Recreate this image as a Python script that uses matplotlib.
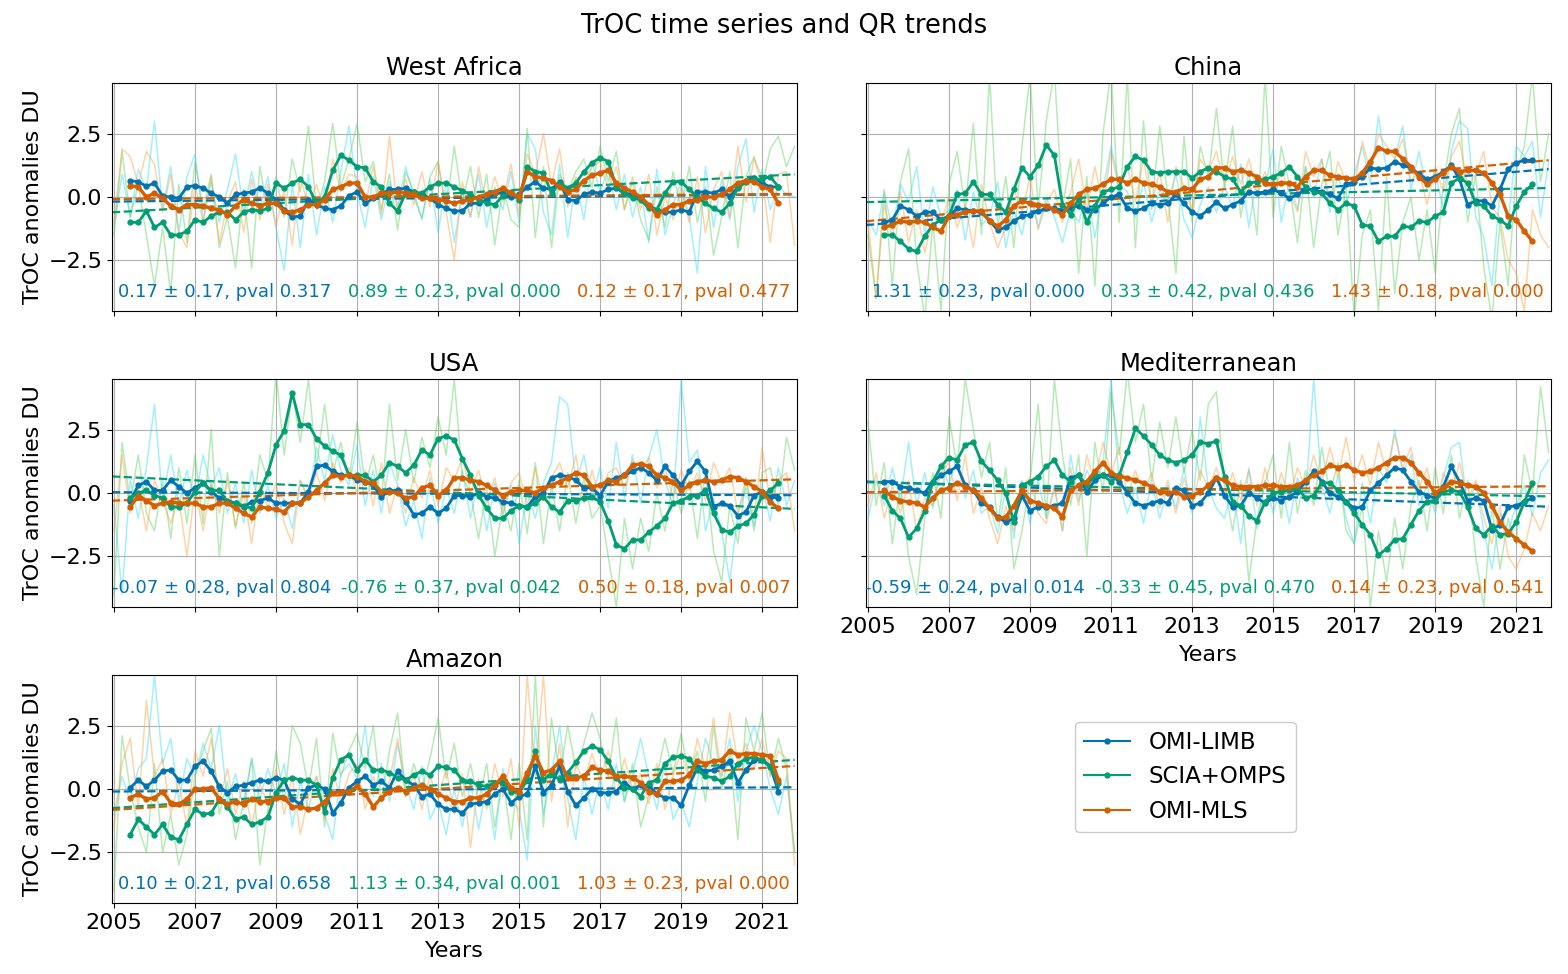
import numpy as np
import matplotlib
matplotlib.use("Agg")
import matplotlib.pyplot as plt
from matplotlib.lines import Line2D

# ---------------- data ----------------
regions = ["West Africa", "China", "USA", "Mediterranean", "Amazon"]
series_names = ["OMI-LIMB", "SCIA+OMPS", "OMI-MLS"]

# smoothed series: 2005.4 .. 2021.4 every 0.2 yr (81 values)
t_smooth = 2005.4 + 0.2 * np.arange(81)
# raw series: 2005.0 .. 2021.8 every 0.2 yr (85 values)
t_raw = 2005.0 + 0.2 * np.arange(85)

wa_limb = [0.65, 0.6, 0.42,
           0.55, 0.03, 0.0, -0.05, 0.4,   0.45, 0.35, 0.15, 0.0, -0.25,   0.1, 0.15, 0.2, 0.35, 0.15,
           -0.1, -0.5, -0.8, -0.75, -0.1,   -0.3, -0.45, -0.5, -0.35, 0.05,   0.2, -0.25, -0.05, 0.1, 0.3,
           0.3, 0.35, 0.2, 0.1, -0.05,   -0.3, -0.45, -0.55, -0.55, -0.25,   -0.25, -0.1, 0.15, 0.15, 0.0,
           0.1, 0.4, 0.6, 0.35, 0.3,   0.6, -0.1, -0.15, 0.1, 0.2,   0.15, 0.3, 0.35, 0.15, 0.1,
           -0.05, -0.35, -0.5, -0.6, -0.6,   -0.5, -0.6, 0.2, 0.2, 0.15,   0.3, 0.0, 0.4, 0.65, 0.75,
           0.55, 0.4, 0.4]
wa_scia = [-1.0, -1.0, -0.55,
           -1.2, -1.0, -1.5, -1.5, -1.35,   -0.9, -1.0, -0.75, -0.6, -0.6,   -0.9, -0.6, -0.5, -0.55, -0.45,
           0.55, 0.35, 0.55, 0.7, 0.4,   -0.25, 0.0, 1.05, 1.65, 1.45,   1.2, 1.15, 0.6, 0.4, -0.25,
           -0.55, 0.15, 0.2, 0.15, 0.4,   0.55, 0.55, 0.4, 0.25, 0.1,   -0.1, -0.25, -0.3, 0.05, 0.2,
           -0.1, 1.2, 1.0, 0.95, 0.15,   0.55, 0.35, 0.55, 1.0, 1.35,   1.55, 1.4, 0.4, 0.15, -0.05,
           -0.1, -0.45, -0.5, 0.15, 0.6,   0.6, 0.3, 0.0, -0.25, -0.45,   -0.6, -0.25, 0.35, 0.6, 0.7,
           0.7, 0.8, 0.4]
wa_mls = [0.45, 0.4, 0.0,
          0.15, -0.05, -0.35, -0.5, -0.3,   -0.3, -0.35, -0.45, -0.5, -0.7,   -0.35, -0.1, -0.25, -0.35, -0.25,
          -0.25, -0.55, -0.6, -0.5, -0.3,   -0.3, -0.1, 0.3, 0.4, 0.55,   0.55, 0.0, 0.0, 0.15, 0.15,
          0.2, 0.15, 0.1, -0.05, -0.05,   -0.1, -0.15, -0.25, -0.15, -0.1,   0.0, 0.1, 0.2, 0.35, 0.15,
          0.0, 1.0, 0.8, 0.75, 0.65,   0.4, 0.2, 0.3, 0.65, 0.85,   0.95, 1.05, 0.55, 0.35, 0.2,
          0.0, -0.3, -0.7, -0.5, -0.3,   -0.3, -0.15, -0.1, 0.0, 0.0,   0.1, 0.3, 0.55, 0.65, 0.6,
          0.4, 0.3, -0.25]

cn_limb = [-1.0, -0.9, -0.35,
           -0.5, -0.75, -0.6, -0.6, -0.9,   -0.75, -0.45, -0.5, -0.55, -0.6,   -0.95, -1.3, -1.2, -0.95, -0.75,
           -0.7, -0.55, -0.45, -0.45, -0.55,   -0.45, -0.35, -0.5, -0.5, -0.25,   0.0, 0.1, -0.45, -0.55, -0.45,
           -0.25, -0.3, -0.25, 0.1, -0.25,   -0.6, -0.75, -0.5, -0.2, -0.45,   -0.3, -0.15, 0.2, 0.15, 0.2,
           0.3, 0.15, -0.05, 0.1, 0.3,   0.3, 0.2, 0.1, -0.05, 0.5,   0.6, 0.8, 1.15, 1.1, 1.15,
           1.4, 1.25, 1.15, 0.9, 0.7,   0.8, 1.0, 1.25, 0.7, -0.3,   -0.15, -0.15, -0.35, 0.3, 1.1,
           1.35, 1.45, 1.45]
cn_scia = [-1.5, -1.5, -1.75,
           -2.05, -2.15, -1.55, -1.1, -0.9,   -0.75, 0.1, 0.15, 0.6, 0.1,   0.1, -0.3, -0.6, 0.3, 1.15,
           0.8, 1.25, 2.05, 1.65, -0.3,   -0.7, -0.05, -1.0, -0.35, 0.2,   0.3, 0.4, 1.2, 1.6, 1.45,
           1.0, 0.95, 1.0, 1.0, 1.0,   0.75, 1.0, 1.15, 1.0, 0.8,   0.7, 0.2, 0.55, 0.6, 0.7,
           0.8, 0.95, 1.2, 0.8, 0.4,   0.2, 0.15, -0.25, -0.5, -0.25,   -0.35, -1.1, -1.15, -1.75, -1.55,
           -1.55, -1.15, -1.2, -0.95, -1.0,   -0.75, -0.6, 0.55, 0.75, 0.55,   -0.25, -0.35, -0.75, -0.9, -1.15,
           -0.35, 0.2, 0.5]
cn_mls = [-1.2, -1.1, -0.95,
          -1.0, -0.95, -1.0, -1.2, -1.35,   -0.75, -0.7, -0.6, -0.55, -0.55,   -0.95, -1.15, -0.9, -0.35, -0.15,
          -0.25, -0.3, -0.35, -0.5, -0.7,   -0.25, 0.1, 0.3, 0.35, 0.5,   0.7, 0.7, 0.55, 0.7, 0.55,
          0.5, 0.4, 0.2, 0.2, 0.35,   0.3, 0.7, 0.8, 1.15, 1.15,   1.0, 1.05, 0.95, 0.8, 0.55,
          0.5, 0.55, 0.55, 0.4, 0.8,   1.05, 1.05, 0.85, 0.8, 0.75,   0.7, 0.95, 1.4, 1.95, 1.8,
          1.8, 1.5, 1.2, 0.8, 0.5,   0.7, 0.95, 1.2, 1.0, 1.05,   1.05, 0.95, 0.55, 0.1, -0.75,
          -0.9, -1.35, -1.75]

us_limb = [-0.3, 0.3, 0.45,
           0.1, 0.1, 0.5, 0.25, 0.0,   0.2, 0.4, 0.05, -0.2, -0.3,   -0.4, -0.55, -0.35, -0.3, -0.2,
           -0.4, -0.4, -0.4, -0.4, 0.05,   1.05, 1.1, 0.85, 0.7, 0.7,   0.5, 0.45, 0.3, -0.15, 0.1,
           0.1, -0.35, -0.85, -0.8, -0.55,   -0.8, -0.6, -0.1, -0.1, -0.15,   0.0, -0.15, -0.2, -0.35, -0.4,
           -0.5, -0.55, -0.15, 0.0, 0.6,   0.7, 0.65, 0.5, 0.2, 0.2,   -0.1, 0.45, 0.6, 0.7, 0.85,
           1.0, 0.8, 0.5, 1.05, 0.7,   0.3, 0.85, 1.25, 0.85, -0.55,   -0.4, -0.5, -0.9, -0.75, -0.1,
           0.05, -0.15, -0.2]
us_scia = [-0.2, 0.0, 0.1,
           -0.1, -0.2, -0.55, -0.55, -0.4,   0.05, 0.4, 0.1, 0.1, -0.35,   -0.4, -0.5, -0.6, 0.05, 0.8,
           1.9, 2.45, 3.95, 2.7, 2.7,   2.15, 1.85, 1.65, 1.5, 0.7,   0.7, 0.7, 0.45, 0.7, 1.2,
           1.05, 0.8, 1.1, 1.7, 1.5,   2.15, 2.25, 2.1, 1.35, 0.7,   -0.1, -0.6, -1.0, -1.0, -0.7,
           -0.5, -0.55, -0.4, -0.15, -0.55,   -0.75, -0.3, -0.3, -0.2, -0.15,   -0.35, -1.1, -2.05, -2.2, -1.85,
           -1.85, -1.55, -1.3, -1.0, -0.4,   -0.3, -0.15, -0.1, 0.1, -0.8,   -1.45, -1.55, -1.3, -1.2, -0.85,
           -0.1, 0.1, 0.4]
us_mls = [-0.55, -0.1, -0.3,
          -0.5, -0.4, -0.35, -0.4, -0.4,   -0.4, -0.55, -0.55, -0.4, -0.4,   -0.6, -0.8, -0.95, -0.55, -0.6,
          -0.65, -0.75, -0.4, -0.4, -0.15,   0.1, 0.4, 0.7, 0.65, 0.7,   0.65, 0.45, 0.4, 0.05, 0.05,
          0.0, -0.2, -0.15, 0.2, 0.3,   -0.1, 0.1, 0.6, 0.6, 0.5,   0.45, 0.3, 0.1, -0.1, 0.05,
          0.1, 0.1, 0.0, 0.2, 0.3,   0.45, 0.6, 0.8, 0.7, 0.25,   0.3, 0.5, 0.45, 0.7, 1.1,
          1.15, 1.05, 0.7, 0.6, 0.45,   0.1, 0.3, 0.45, 0.5, 0.45,   0.5, 0.65, 0.6, 0.45, 0.25,
          0.05, -0.35, -0.6]

md_limb = [0.45, 0.45, 0.25,
           0.2, 0.1, 0.0, 0.45, 0.7,   0.85, 1.05, 0.3, 0.1, -0.4,   -0.55, -0.95, -1.15, -1.0, -0.1,
           -0.7, -0.55, -0.55, -0.5, -0.4,   0.6, 0.7, 0.05, 0.5, 0.7,   0.7, 0.45, 0.0, -0.4, -0.5,
           -0.4, -0.3, -0.4, 0.2, 0.1,   -0.5, -0.4, 0.0, 0.6, -0.1,   -0.55, -0.5, 0.0, -0.2, -0.4,
           -0.2, -0.3, -0.15, 0.05, 0.45,   0.85, 0.45, 0.0, -0.15, -0.35,   -0.6, -0.55, 0.1, 0.4, 0.7,
           1.0, 0.9, 0.45, 0.05, -0.1,   -0.2, 0.25, 1.05, 0.45, -0.3,   -0.2, -0.3, -1.45, -1.25, -0.55,
           -0.5, -0.35, -0.2]
md_scia = [-0.1, -0.7, -1.0,
           -1.75, -1.4, -0.7, 0.45, 1.05,   1.4, 1.3, 1.9, 2.0, 1.25,   0.9, 0.5, 0.0, -1.15, 0.3,
           0.45, 0.65, 1.05, 1.3, 0.7,   0.45, 0.7, 0.3, 0.7, 0.7,   0.45, 0.7, 1.6, 2.55, 2.25,
           1.9, 1.5, 1.3, 1.2, 1.3,   1.5, 2.0, 1.95, 2.05, 0.65,   -0.35, -0.5, -0.9, -1.1, -0.35,
           0.0, 0.05, 0.1, 0.2, -0.2,   -0.1, 0.4, 0.4, 0.1, -0.35,   -0.8, -1.25, -1.65, -2.45, -2.2,
           -1.85, -1.8, -1.25, -0.7, -0.35,   -0.3, 0.05, 0.1, 0.05, -0.55,   -1.4, -1.65, -1.3, -1.65, -1.6,
           -1.15, -0.35, 0.4]
md_mls = [0.1, -0.15, -0.3,
          -0.35, -0.4, -0.55, -0.2, 0.1,   0.2, 0.4, 0.25, 0.1, -0.2,   -0.6, -1.0, -0.95, -0.5, 0.1,
          -0.3, -0.4, -0.5, -0.6, -0.95,   0.1, 0.3, 0.45, 0.85, 1.2,   0.8, 0.65, 0.6, 0.5, 0.4,
          0.25, 0.05, 0.0, 0.05, -0.15,   -0.1, 0.05, 0.3, 0.6, 0.5,   0.3, 0.25, 0.25, 0.25, 0.3,
          0.3, 0.25, 0.25, 0.3, 0.5,   0.7, 0.85, 1.1, 1.0, 1.1,   0.9, 0.8, 0.85, 1.0, 1.2,
          1.4, 1.4, 1.2, 0.8, 0.45,   0.0, 0.2, 0.45, 0.4, 0.3,   0.25, 0.0, -0.5, -1.15, -1.55,
          -1.8, -2.05, -2.3]

am_limb = [0.05, 0.35, 0.1,
           0.35, 0.7, 0.75, 0.35, 0.35,   0.9, 1.1, 0.7, 0.1, -0.15,   0.1, 0.15, 0.25, 0.35, 0.3,
           0.45, 0.35, -0.4, -0.6, 0.05,   0.15, 0.0, -0.95, -0.55, 0.05,   0.3, 0.5, 0.15, 0.3, 0.05,
           0.7, 0.35, 0.15, -0.3, -0.2,   -0.6, -0.8, -0.8, -0.95, -0.6,   -0.55, -0.5, -0.2, 0.0, -0.55,
           -0.3, -0.2, 0.9, -0.15, 0.15,   0.9, -0.1, -0.65, -0.35, 0.0,   -0.15, -0.15, -0.1, 0.25, 0.0,
           0.15, 0.15, -0.2, -0.35, -0.35,   -0.65, 0.15, 0.85, 0.7, 0.75,   0.9, 1.1, 0.25, 0.75, 1.15,
           1.15, 0.9, -0.1]
am_scia = [-1.8, -1.2, -1.5,
           -1.8, -1.4, -1.9, -2.0, -1.4,   -0.8, -1.0, -0.95, -0.4, -0.7,   -1.2, -1.1, -1.4, -1.3, -1.1,
           -0.15, 0.35, 0.45, 0.35, 0.35,   0.15, -0.9, 0.45, 1.15, 1.35,   0.75, 1.15, 0.75, 0.75, 0.65,
           0.45, 0.35, 0.55, 0.7, 0.55,   0.9, 0.85, 0.75, 0.35, 0.3,   0.15, 0.1, 0.25, 0.25, -0.1,
           -0.15, 0.35, 1.5, 0.35, 0.65,   0.35, 0.65, 1.05, 1.5, 1.7,   1.55, 1.1, 0.45, 0.05, 0.0,
           -0.3, 0.25, 0.35, 1.0, 1.25,   1.3, 1.2, 0.75, 0.5, 0.45,   0.3, 0.5, 1.0, 1.2, 1.25,
           1.15, 0.85, 0.25]
am_mls = [-0.35, -0.2, -0.4,
          -0.35, -0.1, -0.55, -0.6, -0.4,   0.0, 0.0, 0.05, -0.4, -0.6,   -0.5, -0.6, -0.4, -0.5, -0.5,
          -0.35, -0.35, -0.7, -0.7, -0.8,   -0.75, -0.5, -0.15, -0.1, -0.1,   0.1, -0.2, -0.7, -0.35, -0.1,
          0.05, -0.1, 0.05, 0.15, 0.0,   -0.2, -0.35, -0.5, -0.5, -0.35,   -0.35, -0.2, 0.15, 0.5, 0.05,
          -0.1, 0.65, 1.3, 0.65, 0.75,   1.1, 0.45, 0.45, 0.5, 0.85,   0.75, 0.7, 0.5, 0.5, 0.45,
          0.25, -0.1, -0.2, 0.3, 0.3,   0.35, 0.55, 1.1, 1.0, 1.1,   1.15, 1.5, 1.35, 1.4, 1.4,
          1.35, 1.3, 0.35]

# raw anomalies (thin pale lines)
wa_limb_raw = [-1.2, 0.9, -0.8, 1.1, 0.3,  3.0, -0.5, 1.2, -1.4, 0.8,  1.7, -0.9, 0.6, -1.0, 0.3,
               1.7, -0.6, 1.0, -0.5, 0.8,  -1.2, -2.9, 0.5, -2.0, 0.9,  -1.5, 0.4, -1.0, 1.0, 2.8,
               0.2, -1.2, 0.8, -0.9, 0.6,  -0.4, 1.2, 0.0, -0.8, 0.7,  -1.4, 0.6, -1.8, 0.2, -0.8,
               0.9, -1.2, 0.4, -0.5, 1.0,  -1.0, 2.5, 1.9, -0.6, -1.5,  1.3, -1.6, 0.7, -0.9, 1.4,
               0.2, 1.1, -0.5, 0.9, -0.8,  0.4, -1.8, 1.1, -1.5, -0.3,  0.6, -0.8, -3.0, 1.2, -1.2,
               0.7, -0.9, 1.2, 2.3, -0.6,  1.1, -0.5, 0.4, 0.1, 0.0]
wa_scia_raw = [-1.5, 1.8, -0.8, 0.5, -1.5,  -3.5, -1.2, -3.8, 0.5, -1.8,  1.4, -0.5, 0.9, -2.0, -0.8,
               -2.8, 0.3, -2.8, 1.2, -0.6,  0.8, -0.8, 1.5, 0.2, 2.8,  -0.5, 0.6, 2.9, 0.4, 1.5,
               2.9, 0.6, 1.4, -0.5, 0.9,  -1.3, 1.0, 0.2, -0.9, 0.8,  1.4, -0.5, 2.0, -0.2, 1.2,
               -0.8, 0.9, -1.9, 0.4, -0.9,  -1.2, 2.7, -1.6, 1.2, -2.0,  0.9, 0.2, 1.0, 1.5, 0.4,
               2.0, 0.6, 1.8, -0.5, 0.6,  -0.9, -1.7, 0.4, -1.2, 1.0,  -0.5, 1.2, -1.0, 0.4, -2.3,
               -0.8, 1.0, -2.0, 0.8, 1.6,  0.4, 1.9, 2.4, 1.2, 2.0]
wa_mls_raw = [-1.0, 1.9, 1.6, 0.5, 1.8,  1.3, -0.6, 0.9, -1.4, -2.0,  0.5, -1.0, 0.8, -1.8, -0.2,
              0.6, -1.4, 0.7, -0.9, 0.5,  -1.2, 0.3, -1.9, 0.8, -0.4,  0.5, -0.6, 1.5, 0.2, 0.9,
              0.8, -0.4, 1.2, -0.7, 2.4,  -0.5, 0.7, -0.3, 1.0, -0.4,  1.4, -0.6, -2.5, 0.6, -0.8,
              1.2, -0.4, 0.8, -0.2, 1.3,  -0.7, 1.7, 0.9, 2.5, 0.5,  1.9, -0.4, 0.8, 0.5, 1.2,
              1.4, 0.3, 1.2, -0.5, 0.8,  -0.5, 0.9, -1.5, 0.0, -0.9,  0.4, -1.0, 0.8, -1.4, 0.3,
              1.0, -0.8, 2.0, -0.2, 1.5,  0.8, -1.8, 0.9, 1.0, -1.9]

cn_limb_raw = [-0.9, -1.5, 0.2, -1.3, 0.5,  -0.2, 1.2, -1.5, 0.4, -0.8,  -0.5, 0.3, -1.7, 0.2, -1.1,
               -0.8, 0.6, -2.0, -0.5, -1.5,  0.1, -1.2, 0.0, -0.8, -1.8,  -0.5, -1.0, 0.2, -1.6, 0.3,
               2.0, 0.5, 0.2, -0.8, 0.6,  -1.0, 0.3, -0.2, 0.9, -0.9,  -1.6, -0.3, 0.4, -0.6, 0.5,
               -0.5, 1.3, -1.2, 0.8, 0.4,  1.9, -1.0, 0.6, -0.5, 1.2,  0.0, 1.5, -0.6, 0.9, -0.3,
               0.9, 2.0, 0.5, 3.2, 1.0,  1.5, 2.8, 0.3, 1.8, 0.2,  1.0, -0.5, 1.8, 3.0, 2.7,
               -0.8, -1.6, -3.5, 0.2, -1.0,  2.0, 1.6, 2.2, -0.8, 1.4]
cn_scia_raw = [-1.5, -4.0, 0.3, -3.5, 0.6,  1.9, -2.5, -4.8, -1.0, -4.5,  0.5, 1.8, -0.5, 2.9, -1.5,
               4.8, -1.2, 0.8, -2.0, 2.0,  4.8, -0.5, 3.0, 5.0, -0.4,  1.5, -3.0, 0.8, -3.5, 2.5,
               5.0, -1.0, 4.8, -2.0, 3.0,  -0.5, 2.8, 0.0, -3.0, 2.4,  -1.0, 2.0, 0.8, 3.5, 0.4,
               2.8, -0.8, 1.0, -1.5, 4.8,  -0.8, 2.0, 0.5, -1.8, 1.2,  -2.0, 0.5, 1.8, -1.5, 0.4,
               -4.8, -1.5, -0.5, -4.5, 0.8,  -3.8, -1.0, 0.0, -2.5, -0.5,  -3.0, 0.5, 2.5, 3.5, -1.0,
               0.9, -2.8, -4.8, -1.0, -3.5,  1.0, 2.0, 4.8, 0.6, 2.5]
cn_mls_raw = [-1.0, -4.0, -0.3, -1.6, 0.2,  -1.8, -0.5, -2.2, -0.8, -1.0,  0.0, -1.2, -0.3, -2.0, 0.5,
              -1.0, -2.0, -1.2, 0.3, -0.6,  0.8, -1.3, -0.2, 0.3, -1.0,  0.2, 1.5, -0.5, 1.2, -0.3,
              1.8, 0.3, 1.2, -0.2, 1.5,  -0.3, 1.0, -1.0, 1.2, 0.4,  -0.5, 1.5, 1.0, 1.8, 0.5,
              1.6, 0.5, 1.5, 0.2, 1.0,  0.0, 1.1, 0.2, -0.6, 1.8,  0.8, 1.5, -0.2, 1.4, 0.6,
              0.4, 2.2, 1.0, 2.5, 2.0,  1.5, 2.3, 0.6, 1.0, -0.3,  1.2, 0.2, 1.6, 2.2, 0.4,
              0.9, 1.8, -0.4, -0.8, -2.5,  -3.0, -4.5, -0.5, -1.5, -2.0]

us_limb_raw = [-0.5, -4.0, 0.5, -1.0, 1.0,  3.5, -0.3, 1.5, -0.5, 0.9,  -0.3, 1.5, 0.2, 1.0, -0.8,
               0.4, -1.2, 0.9, -0.8, 0.3,  -1.0, -0.2, -1.4, 0.5, -0.3,  1.8, 0.5, 2.3, 0.9, 0.3,
               1.9, -0.5, 0.9, -0.8, 1.2,  0.3, -1.3, -0.3, -1.8, 0.6,  -1.2, 0.2, -0.8, 0.9, -1.0,
               0.5, -1.5, 0.4, -0.9, 0.3,  -2.0, 0.1, -1.0, 0.4, 1.2,  3.8, 3.5, 0.4, 1.5, -0.2,
               1.0, -0.6, 2.0, -0.2, 1.5,  -0.4, 1.4, 2.5, 0.5, -0.5,  4.5, 1.2, 1.7, -1.5, -0.2,
               -1.5, -3.5, -0.8, 0.2, -1.3,  0.3, -1.1, 1.0, -0.5, 0.5]
us_scia_raw = [-4.0, 2.0, -0.4, 1.5, -0.8,  -1.5, 0.5, -1.8, 1.0, -1.2,  1.5, -1.2, 2.5, -2.5, 0.8,
               -1.4, 0.4, -1.2, 1.5, 0.5,  4.8, 1.5, 4.0, 2.0, 4.5,  1.0, 3.5, 0.8, 2.0, 0.5,
               2.8, 0.3, 1.5, -0.3, 3.5,  0.5, 2.5, 0.4, 2.2, 1.0,  3.0, 1.5, 4.5, 0.6, 0.0,
               -1.8, 0.2, -2.5, -0.4, -1.5,  0.5, -1.6, 1.2, -2.0, 0.3,  -1.5, 0.8, -1.2, 0.6, -1.0,
               -0.5, -2.5, -4.5, -1.0, -3.0,  -1.0, -2.3, 0.0, -1.5, 0.5,  -0.8, 0.5, -1.8, 0.9, -2.3,
               -3.5, -0.5, -2.0, 0.6, -1.5,  0.8, 1.0, -0.5, 2.2, 0.9]
us_mls_raw = [-1.5, 1.5, -0.8, 0.2, -1.5,  0.5, -0.3, -1.2, -0.2, -2.5,  0.2, -1.5, 0.4, -0.8, 0.5,
              -1.3, 0.0, -2.0, 0.3, -0.6,  0.4, -1.2, -2.0, 0.5, -0.2,  0.8, -0.3, 1.2, 0.4, 1.0,
              0.0, 0.9, -0.5, 1.2, -0.8,  0.3, -0.8, 0.6, -0.2, 0.9,  -0.5, 1.0, 0.5, 1.4, 0.0,
              0.9, -0.4, 0.6, -0.8, 0.4,  0.8, -0.5, 1.0, -0.3, 0.6,  1.2, 0.2, 1.5, -0.4, 0.9,
              -0.3, 0.8, 1.0, 0.2, 1.3,  0.8, 1.4, 0.2, 1.0, -0.2,  0.9, 0.1, 0.8, -0.3, 1.2,
              0.4, 1.0, -0.8, 0.6, -1.0,  1.8, -0.4, 0.5, 0.8, -1.5]

md_limb_raw = [-1.0, 0.5, -0.5, 1.0, -0.3,  2.0, -0.5, 0.8, -0.6, 1.2,  0.3, 1.5, -0.2, 0.9, -0.8,
               -0.5, -1.6, 0.2, -1.8, 0.5,  -1.2, 0.5, -1.0, 0.3, -1.5,  1.5, -0.3, 0.9, 0.2, 1.2,
               4.5, 0.4, -0.8, 0.2, -1.2,  0.5, -1.0, 0.3, -0.6, 1.0,  -0.8, 3.0, 0.2, -0.6, -1.0,
               0.3, -2.0, 1.0, -1.4, 0.5,  -0.8, 0.4, -1.2, 0.6, -0.3,  4.5, 0.3, -0.8, 0.7, -1.0,
               -2.0, 0.4, -1.2, 1.0, 0.4,  2.5, 0.8, 1.5, -0.5, 0.3,  -0.8, 0.6, 1.8, 2.0, -0.6,
               0.4, -1.5, -3.0, -0.8, -1.5,  -0.5, 0.3, -0.9, 0.8, 1.3]
md_scia_raw = [2.8, -0.5, 1.2, -2.0, 0.4,  -2.5, -4.0, -1.0, 0.8, -1.0,  3.0, 1.0, 4.5, 2.5, 0.6,
               2.0, -1.2, 1.0, -3.0, -1.5,  0.5, 3.5, -1.0, 4.5, 1.5,  -0.5, 1.5, -2.5, 2.0, 0.0,
               4.0, 1.5, 4.8, 2.0, 3.5,  0.5, 2.8, 1.0, 3.0, 0.8,  2.5, 0.5, 3.5, 4.0, 0.3,
               -1.5, 0.5, -3.5, -1.0, 0.4,  1.5, -1.0, 2.0, -0.8, 0.9,  -0.5, 1.8, 0.0, 1.2, -1.5,
               -2.0, -0.5, -4.5, -1.5, -3.5,  -1.0, -3.0, -0.5, 0.5, -1.5,  1.0, -0.8, 1.5, -1.0, 0.5,
               -2.5, -4.5, -0.5, -3.0, -1.0,  -2.0, 1.5, 0.0, 4.2, 1.6]
md_mls_raw = [-0.5, 0.8, -1.0, 0.3, -0.8,  0.5, -1.5, -0.2, -0.5, 0.8,  1.2, -0.3, 1.5, -0.8, 0.2,
              -1.0, -2.0, -0.5, -1.5, 0.3,  0.6, -0.8, -1.2, 0.2, -1.5,  1.0, -0.5, 1.5, 0.4, 2.0,
              0.8, 1.8, -0.2, 0.9, 0.0,  0.8, -0.6, 0.5, -0.8, 0.6,  -0.5, 0.9, 0.2, 1.0, -0.2,
              0.8, -0.3, 0.9, -0.5, 1.0,  -0.4, 0.8, -0.2, 1.0, 0.2,  1.5, 0.4, 1.8, 0.6, 2.2,
              0.5, 1.5, 0.3, 2.0, 0.8,  2.3, 1.0, 1.8, 0.2, 1.0,  -0.6, 0.8, 0.0, 1.2, -0.3,
              0.5, -1.0, -2.0, -0.5, -2.5,  -3.0, -2.2, -0.8, -1.5, -0.5]

am_limb_raw = [-1.0, 0.5, -0.5, 0.8, 1.2,  4.5, 1.0, 2.0, -0.5, 1.2,  0.5, 1.8, 0.8, 2.5, -0.5,
               0.6, -0.8, 1.2, -0.4, 0.8,  -0.2, 1.0, -1.5, 0.3, -0.8,  0.5, -1.0, -2.0, 0.6, 1.0,
               0.4, 2.5, -0.3, 1.0, -0.5,  1.8, 0.2, -0.8, 0.9, -1.2,  -0.5, -1.8, 0.0, -1.5, 0.3,
               -1.6, 0.2, -2.0, 0.8, -0.5,  -0.8, -2.8, 2.5, -1.0, 0.6,  2.5, -0.4, -2.0, 0.5, -1.0,
               0.4, -0.8, 1.0, -0.5, 0.6,  2.0, 0.5, -0.8, 1.0, -1.2,  -0.5, -1.5, 0.3, 2.0, 1.0,
               0.5, 2.0, -0.5, 1.5, 2.5,  1.5, 0.0, -1.0, 0.5, -2.5]
am_scia_raw = [-4.0, 2.1, 0.0, -1.5, -2.5,  1.0, -2.5, -1.0, -3.0, -1.8,  0.5, 1.5, 2.4, -1.0, 0.3,
               -2.0, -0.5, 1.2, -3.0, -0.8,  1.5, -0.5, 2.5, 1.8, 0.0,  2.0, -1.5, 2.2, 0.5, 1.5,
               2.2, 0.8, 2.5, -0.5, 1.5,  3.0, -0.3, 1.0, 0.0, 1.2,  2.8, 0.4, 1.8, -0.3, 1.0,
               -0.5, 1.0, -1.5, 0.5, -2.0,  1.0, -2.0, 4.5, -1.5, 2.8,  0.5, 2.5, 0.8, 1.8, 3.0,
               2.0, 0.5, 2.8, -0.5, 1.0,  -1.5, -0.3, 0.5, 2.0, 0.6,  2.2, 0.4, 1.5, -0.5, 2.5,
               0.0, 1.5, -2.0, 2.8, 1.5,  3.0, 0.5, 2.0, 0.8, -2.5]
am_mls_raw = [-1.5, 1.0, 2.0, -0.8, 3.5,  0.5, 1.2, -1.0, 0.3, -1.5,  1.5, 0.5, 2.0, -0.5, 0.8,
              -1.0, 0.3, -1.5, 0.2, -0.6,  0.8, -1.0, 0.5, -1.8, -0.3,  0.5, -1.2, 0.8, -0.5, 0.6,
              1.0, -0.8, 0.5, -0.5, 0.3,  2.0, -0.3, 0.6, -0.8, 0.5,  -0.4, 0.8, -1.0, 0.6, -2.3,
              0.4, -0.8, 1.0, -0.3, 1.2,  -1.5, 4.5, 0.5, 4.5, -0.5,  1.8, -1.5, 1.0, 0.3, 1.4,
              0.3, 1.5, -0.2, 1.2, 0.0,  0.6, -0.6, 1.0, -0.8, 0.5,  1.5, 0.3, 2.0, 0.8, 2.8,
              0.5, 3.0, 1.0, 1.8, 0.8,  2.0, 0.5, 1.5, 1.2, -3.0]

# QR trends (DU/decade), uncertainties, p-values, level at 2005
wa_slope, wa_err, wa_pval, wa_icpt = [0.17, 0.89, 0.12], [0.17, 0.23, 0.17], [0.317, 0.000, 0.477], [-0.18, -0.60, -0.08]
cn_slope, cn_err, cn_pval, cn_icpt = [1.31, 0.33, 1.43], [0.23, 0.42, 0.18], [0.000, 0.436, 0.000], [-1.10, -0.20, -0.95]
us_slope, us_err, us_pval, us_icpt = [-0.07, -0.76, 0.50], [0.28, 0.37, 0.18], [0.804, 0.042, 0.007], [0.03, 0.65, -0.30]
md_slope, md_err, md_pval, md_icpt = [-0.59, -0.33, 0.14], [0.24, 0.45, 0.23], [0.014, 0.470, 0.541], [0.45, 0.42, 0.03]
am_slope, am_err, am_pval, am_icpt = [0.10, 1.13, 1.03], [0.21, 0.34, 0.23], [0.658, 0.001, 0.000], [-0.10, -0.75, -0.82]

# ---------------- styling ----------------
main_colors = ["#0173B2", "#029E73", "#D55E00"]
raw_colors = ["#33DDFF", "#5FD35F", "#FFA040"]

panel_data = {
    "West Africa": ([wa_limb, wa_scia, wa_mls], [wa_limb_raw, wa_scia_raw, wa_mls_raw],
                    wa_slope, wa_err, wa_pval, wa_icpt),
    "China": ([cn_limb, cn_scia, cn_mls], [cn_limb_raw, cn_scia_raw, cn_mls_raw],
              cn_slope, cn_err, cn_pval, cn_icpt),
    "USA": ([us_limb, us_scia, us_mls], [us_limb_raw, us_scia_raw, us_mls_raw],
            us_slope, us_err, us_pval, us_icpt),
    "Mediterranean": ([md_limb, md_scia, md_mls], [md_limb_raw, md_scia_raw, md_mls_raw],
                      md_slope, md_err, md_pval, md_icpt),
    "Amazon": ([am_limb, am_scia, am_mls], [am_limb_raw, am_scia_raw, am_mls_raw],
               am_slope, am_err, am_pval, am_icpt),
}

fig, axes = plt.subplots(3, 2, figsize=(15.68, 9.74), dpi=100, sharex=True, sharey=True)
fig.subplots_adjust(left=0.0714, right=0.9892, bottom=0.0729, top=0.9148,
                    wspace=0.1007, hspace=0.298)
axes[2, 1].remove()
ax_list = [axes[0, 0], axes[0, 1], axes[1, 0], axes[1, 1], axes[2, 0]]

x_trend = np.array([2004.95, 2021.8])
text_x = [0.32, 0.655, 0.99]

for ax, reg in zip(ax_list, regions):
    smooth, raw, slope, err, pval, icpt = panel_data[reg]
    for k in range(3):
        assert len(smooth[k]) == len(t_smooth), (reg, k, len(smooth[k]))
        assert len(raw[k]) == len(t_raw), (reg, k, len(raw[k]))
        ax.plot(t_raw, raw[k], color=raw_colors[k], lw=1.1, alpha=0.45, zorder=1)
    for k in range(3):
        y_tr = icpt[k] + slope[k] / 10.0 * (x_trend - 2005.0)
        ax.plot(x_trend, y_tr, color=main_colors[k], lw=1.6, ls="--", zorder=2)
    for k in range(3):
        ax.plot(t_smooth, smooth[k], color=main_colors[k], lw=2.0 if k < 2 else 2.4,
                marker="o", ms=3.5, zorder=3 + k)
    for k in range(3):
        ax.text(text_x[k], 0.085, f"{slope[k]:.2f} ± {err[k]:.2f}, pval {pval[k]:.3f}",
                color=main_colors[k], fontsize=13, ha="right", va="center",
                transform=ax.transAxes, zorder=10)
    ax.set_title(reg, fontsize=17.5)
    ax.grid(True, color="#b0b0b0", lw=0.8)
    ax.set_axisbelow(True)
    ax.tick_params(labelsize=16)

ax0 = ax_list[0]
ax0.set_xlim(2004.95, 2021.86)
ax0.set_ylim(-4.5, 4.5)
ax0.set_xticks(range(2005, 2022, 2))
ax0.set_yticks([-2.5, 0.0, 2.5])

for ax in [axes[0, 0], axes[1, 0], axes[2, 0]]:
    ax.set_ylabel("TrOC anomalies DU", fontsize=16)
for ax in [axes[1, 1], axes[2, 0]]:
    ax.tick_params(axis="x", labelbottom=True)
    ax.set_xlabel("Years", fontsize=16, labelpad=6)

handles = [Line2D([0], [0], color=c, lw=1.5, marker="o", ms=3.5) for c in main_colors]
fig.legend(handles, series_names, loc="center", bbox_to_anchor=(0.756, 0.2023),
           fontsize=16.5, framealpha=1.0)

fig.suptitle("TrOC time series and QR trends", fontsize=18.5, y=0.973, va="center")

fig.savefig("out.png", dpi=100)
